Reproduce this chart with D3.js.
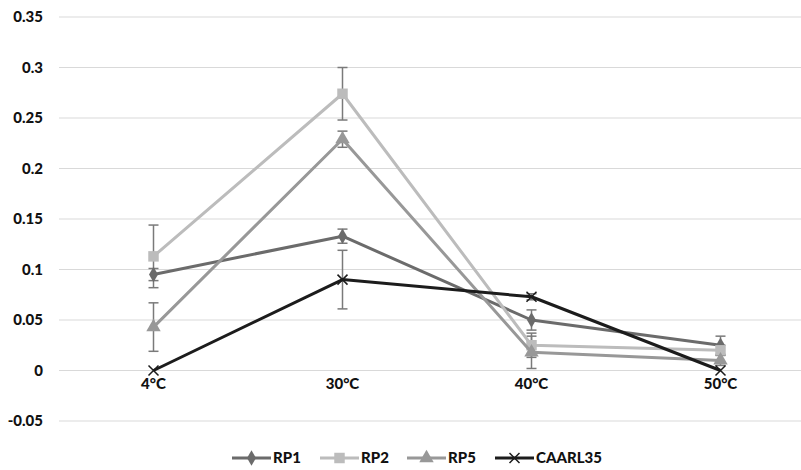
<!doctype html>
<html lang="en">
  <head>
    <meta charset="UTF-8" />
    <title>Temperature chart</title>
    <script src="https://d3js.org/d3.v7.min.js"></script>
    <style>
      body { margin: 0; background: #fff; }
      svg text { font-family: Lato, "Open Sans", sans-serif; font-weight: 900; fill: #111; }
    </style>
  </head>
  <body>
    <svg id="chart" width="801" height="470"></svg>
    <script>
      // data
      const categories = ["4°C", "30°C", "40°C", "50°C"];
      const seriesNames = ["RP1", "RP2", "RP5", "CAARL35"];
      const rp1 = [0.095, 0.133, 0.05, 0.025];
      const rp1Err = [0.006, 0.007, 0.01, 0.009];
      const rp2 = [0.113, 0.274, 0.025, 0.02];
      const rp2Err = [0.031, 0.026, 0.012, 0.005];
      const rp5 = [0.043, 0.229, 0.018, 0.01];
      const rp5Err = [0.024, 0.008, 0.016, 0.005];
      const caarl = [0, 0.09, 0.073, 0];
      const caarlErr = [0, 0.029, 0.003, 0];
      const yTicks = [-0.05, 0, 0.05, 0.1, 0.15, 0.2, 0.25, 0.3, 0.35];

      const styles = [
        { color: "#6b6b6b", marker: d3.symbolDiamond, size: 70 },
        { color: "#bcbcbc", marker: d3.symbolSquare, size: 110 },
        { color: "#989898", marker: d3.symbolTriangle, size: 90 },
        { color: "#1c1c1c", marker: "x", size: 5 }
      ];

      const series = seriesNames.map((name, i) => ({
        name,
        values: [rp1, rp2, rp5, caarl][i],
        errors: [rp1Err, rp2Err, rp5Err, caarlErr][i],
        style: styles[i]
      }));

      const svg = d3.select("#chart");
      const x = d3.scalePoint().domain(categories).range([59, 815]).padding(0.5);
      const y = d3.scaleLinear().domain([-0.05, 0.35]).range([421, 17]);

      // gridlines
      svg.append("g")
        .selectAll("line")
        .data(yTicks)
        .join("line")
        .attr("x1", 59).attr("x2", 801)
        .attr("y1", d => y(d)).attr("y2", d => y(d))
        .attr("stroke", "#d9d9d9")
        .attr("stroke-width", 1);

      // y labels
      svg.append("g")
        .selectAll("text")
        .data(yTicks)
        .join("text")
        .attr("x", 43)
        .attr("y", d => y(d))
        .attr("dy", "0.36em")
        .attr("text-anchor", "end")
        .attr("font-size", "15px")
        .text(d => d === 0 ? "0" : String(d));

      // x labels
      svg.append("g")
        .selectAll("text")
        .data(categories)
        .join("text")
        .attr("x", d => x(d))
        .attr("y", 389)
        .attr("text-anchor", "middle")
        .attr("font-size", "15px")
        .text(d => d);

      const line = d3.line()
        .x((d, i) => x(categories[i]))
        .y(d => y(d));

      // error bars
      const errG = svg.append("g").attr("stroke", "#7a7a7a").attr("stroke-width", 1.5);
      series.forEach(s => {
        s.values.forEach((v, i) => {
          const e = s.errors[i];
          if (!e) return;
          const cx = x(categories[i]);
          errG.append("line").attr("x1", cx).attr("x2", cx).attr("y1", y(v - e)).attr("y2", y(v + e));
          errG.append("line").attr("x1", cx - 5).attr("x2", cx + 5).attr("y1", y(v + e)).attr("y2", y(v + e));
          errG.append("line").attr("x1", cx - 5).attr("x2", cx + 5).attr("y1", y(v - e)).attr("y2", y(v - e));
        });
      });

      function drawMarker(g, st, cx, cy) {
        if (st.marker === "x") {
          const r = st.size;
          g.append("path")
            .attr("d", `M${cx - r},${cy - r}L${cx + r},${cy + r}M${cx - r},${cy + r}L${cx + r},${cy - r}`)
            .attr("stroke", st.color)
            .attr("stroke-width", 1.5)
            .attr("fill", "none");
        } else {
          g.append("path")
            .attr("d", d3.symbol().type(st.marker).size(st.size)())
            .attr("transform", `translate(${cx},${cy})`)
            .attr("fill", st.color);
        }
      }

      // lines and markers
      series.forEach(s => {
        svg.append("path")
          .datum(s.values)
          .attr("d", line)
          .attr("fill", "none")
          .attr("stroke", s.style.color)
          .attr("stroke-width", 3)
          .attr("stroke-linejoin", "round");
        const g = svg.append("g");
        s.values.forEach((v, i) => drawMarker(g, s.style, x(categories[i]), y(v)));
      });

      // legend
      const legendX = [232, 320, 407, 495];
      const legendY = 458;
      series.forEach((s, i) => {
        const g = svg.append("g");
        const lx = legendX[i];
        g.append("line")
          .attr("x1", lx).attr("x2", lx + 39)
          .attr("y1", legendY).attr("y2", legendY)
          .attr("stroke", s.style.color)
          .attr("stroke-width", 3);
        drawMarker(g, s.style, lx + 19.5, legendY);
        g.append("text")
          .attr("x", lx + 41)
          .attr("y", legendY)
          .attr("dy", "0.36em")
          .attr("font-size", "15px")
          .text(s.name);
      });
    </script>
  </body>
</html>
